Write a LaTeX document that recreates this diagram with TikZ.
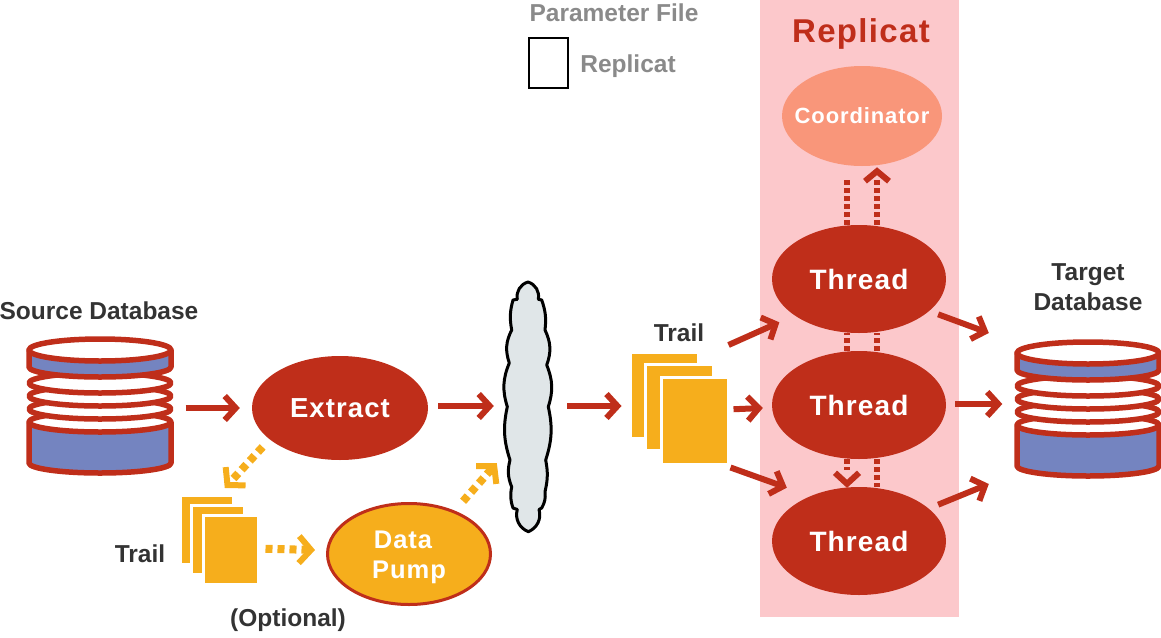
\documentclass[tikz,border=0pt]{standalone}
\usepackage{fontspec}
\setmainfont{Liberation Sans}[BoldFont={Liberation Sans Bold}]
\newfontfamily\spaced{Liberation Sans Bold}[LetterSpace=4]
\newfontfamily\plainbold{Liberation Sans Bold}
\usetikzlibrary{arrows.meta,shapes.geometric}
\definecolor{ored}{HTML}{BF2E1A}
\definecolor{oyel}{HTML}{F6AE1C}
\definecolor{oblue}{HTML}{7484C0}
\definecolor{opink}{HTML}{FCC8CB}
\definecolor{ocoord}{HTML}{F9967A}
\definecolor{ocloud}{HTML}{E0E6E8}
\definecolor{odark}{HTML}{333333}
\definecolor{ogrey}{HTML}{8A8A8A}
\tikzset{
  x=1pt,y=-1pt,
  arr/.style={draw=ored,line width=6pt,-{Straight Barb[length=11pt,width=24pt,line width=6pt]}},
  dotredbody/.style={draw=ored,line width=6pt,dash pattern=on 5pt off 3pt},
  chevron/.style={draw=ored,line width=6pt,miter limit=10},
  dotyel/.style={draw=oyel,line width=8pt,dash pattern=on 7pt off 5pt,-{Straight Barb[length=12pt,width=27pt,line width=6pt,sep=0pt]}},
  threadnode/.style={ellipse,fill=ored,minimum width=174pt,minimum height=108pt,inner sep=0pt,text=white,font=\spaced\fontsize{28}{30}\selectfont},
  page/.style={draw=white,line width=2.5pt,fill=oyel,rectangle,inner sep=0pt,anchor=north west},
  lbl/.style={font=\plainbold\fontsize{24.5}{28}\selectfont,text=odark,align=center,inner sep=0pt},
  grylbl/.style={font=\plainbold\fontsize{24.5}{28}\selectfont,text=ogrey,inner sep=0pt},
  dbpart/.style={draw=ored,line width=5.5pt,line join=round},
  anchorbox/.style={rectangle,inner sep=0pt}
}
\newcommand{\dbdraw}[2]{%
\begin{scope}[shift={(#1,#2)}]
  \path[dbpart,fill=oblue] (-71,422) -- (-71,463) arc[start angle=180,end angle=0,x radius=71,y radius=10] -- (71,422) -- cycle;
  \draw[dbpart,fill=white] (0,422) ellipse[x radius=71,y radius=10];
  \draw[dbpart,fill=white] (0,409) ellipse[x radius=71,y radius=10];
  \draw[dbpart,fill=white] (0,396) ellipse[x radius=71,y radius=10];
  \draw[dbpart,fill=white] (0,383) ellipse[x radius=71,y radius=10];
  \path[dbpart,fill=oblue] (-71,350) -- (-71,367) arc[start angle=180,end angle=0,x radius=71,y radius=10] -- (71,350) -- cycle;
  \draw[dbpart,fill=white] (0,350) ellipse[x radius=71,y radius=11];
\end{scope}}
\begin{document}
\begin{tikzpicture}
\useasboundingbox (0,0) rectangle (1161,637);
\fill[opink] (760,0) rectangle (959,617);
\node[grylbl] (paramlbl) at (614,13) {Parameter File};
\node[draw=black,line width=1.5pt,fill=white,minimum width=39pt,minimum height=50pt,inner sep=0pt] (param) at (548.5,63) {};
\node[grylbl] (replbl) at (628,66) {Replicat};
\node[font=\spaced\fontsize{33}{36}\selectfont,text=ored,inner sep=0pt] (rephead) at (861,34) {Replicat};

% databases
\dbdraw{100}{0}
\node[anchorbox,minimum width=147pt,minimum height=140pt] (src) at (100,406) {};
\node[lbl] (srclbl) at (99,311) {Source Database};
\dbdraw{1088}{3}
\node[anchorbox,minimum width=147pt,minimum height=140pt] (tgt) at (1088,409) {};
\node[lbl] (tgtlbl) at (1088,287) {Target\\[2pt]Database};

% cloud
\draw[black,line width=3pt,line join=round,fill=ocloud]
  (528,282) to[bend left=42] (538.3,299.3) -- (541.7,300) to[bend left=13] (545,330) to[bend left=23] (546.7,365)
  to[bend left=20] (548.3,406.7) to[bend left=15] (545.7,460) to[bend left=12] (545,491.7) to[bend left=18] (541.7,508) -- (539,509.5)
  to[bend left=42] (528.3,531.7) to[bend left=42] (517.3,509.5) -- (513,508) to[bend left=15] (511.7,487) to[bend left=18] (510,460)
  to[bend left=15] (507.3,406.7) to[bend left=20] (509.3,363) to[bend left=23] (511.7,330) to[bend left=13] (513,300) -- (517.3,299.3)
  to[bend left=42] cycle;
\node[anchorbox,minimum width=56pt,minimum height=250pt] (cloud) at (528,407) {};

% main nodes
\node[ellipse,fill=ored,minimum width=176pt,minimum height=104pt,inner sep=0pt,text=white,font=\spaced\fontsize{27.5}{30}\selectfont] (extract) at (340,408) {Extract};
\node[ellipse,fill=ocoord,minimum width=160pt,minimum height=100pt,inner sep=0pt,text=white,font=\spaced\fontsize{22}{24}\selectfont] (coord) at (862,116) {\makebox[0pt]{Coordinator}};
\node[threadnode] (th1) at (859,279) {Thread};
\node[threadnode] (th2) at (859,405) {Thread};
\node[threadnode] (th3) at (859,541) {Thread};
\node[ellipse,draw=ored,line width=3pt,fill=oyel,minimum width=163pt,minimum height=101pt,inner sep=0pt,text=white,align=center,font=\spaced\fontsize{25.5}{30}\selectfont] (pump) at (409,554) {\rule{0pt}{24pt}Data\hspace*{12pt}\\Pump};

% pages
\node[page,minimum width=68pt,minimum height=86pt] (t1a) at (629,351) {};
\node[page,minimum width=68pt,minimum height=86pt] (t1b) at (644,363) {};
\node[page,minimum width=67pt,minimum height=87pt] (t1c) at (660,376) {};
\node[lbl] (t1lbl) at (679,333) {Trail};
\node[page,minimum width=53pt,minimum height=69pt] (t2a) at (179,494) {};
\node[page,minimum width=53pt,minimum height=69pt] (t2b) at (190,504) {};
\node[page,minimum width=55pt,minimum height=69pt] (t2c) at (202,514) {};
\node[lbl] (t2lbl) at (140,554) {Trail};
\node[lbl] (optlbl) at (288,620) {(Optional)};

% solid connectors
\draw[arr] ([shift={(12,2)}]src.east) -- ([shift={(-12,0)}]extract.west);
\draw[arr] ([shift={(10,-2)}]extract.east) -- ([shift={(-6,-1)}]cloud.west);
\draw[arr] ([shift={(11,-1)}]cloud.east) -- ([shift={(-7.5,10.75)}]t1a.west);
\draw[arr] ([shift={(-1,-31)}]t1c.north east) -- ([shift={(-18,5)}]th1.south west);
\draw[arr] ([shift={(4,-11.5)}]t1c.east) -- ([shift={(-9,3)}]th2.west);
\draw[arr] ([shift={(1,2)}]t1c.south east) -- ([shift={(-10.5,-15)}]th3.north west);
\draw[arr] ([shift={(17.5,-3)}]th1.south east) -- ([shift={(-25.5,-76)}]tgt.west);
\draw[arr] ([shift={(9,-1)}]th2.east) -- ([shift={(-12,-5)}]tgt.west);
\draw[arr] ([shift={(17.5,2)}]th3.north east) -- ([shift={(-25.5,75)}]tgt.west);

% dotted connectors
\draw[dotredbody] ([xshift=-12pt]th1.north) -- ([shift={(-15,11)}]coord.south);
\draw[dotredbody] ([xshift=18pt]th1.north) -- ([shift={(15,14)}]coord.south);
\draw[chevron] ([shift={(3,15)}]coord.south) -- ([shift={(15,5)}]coord.south) -- ([shift={(27,15)}]coord.south);
\draw[dotredbody] ([xshift=-12pt]th2.north) -- ([xshift=-12pt]th1.south);
\draw[dotredbody] ([xshift=18pt]th2.north) -- ([xshift=18pt]th1.south);
\draw[dotredbody] ([xshift=-12pt]th2.south) -- ([shift={(-12,-17)}]th3.north);
\draw[chevron] ([shift={(-24,-14)}]th3.north) -- ([shift={(-12,-3)}]th3.north) -- ([shift={(0,-14)}]th3.north);
\draw[dotredbody] ([xshift=18pt]th2.south) -- ([xshift=18pt]th3.north);

% optional path
\draw[dotyel] ([shift={(-15,2)}]extract.south west) -- ([shift={(-6,-26)}]t2c.north);
\draw[dotyel] ([shift={(6,-1)}]t2c.east) -- ([shift={(-11,-4)}]pump.west);
\draw[dotyel] ([shift={(-4.6,-16)}]pump.north east) -- ([shift={(-3,56)}]cloud.west);
\end{tikzpicture}
\end{document}
